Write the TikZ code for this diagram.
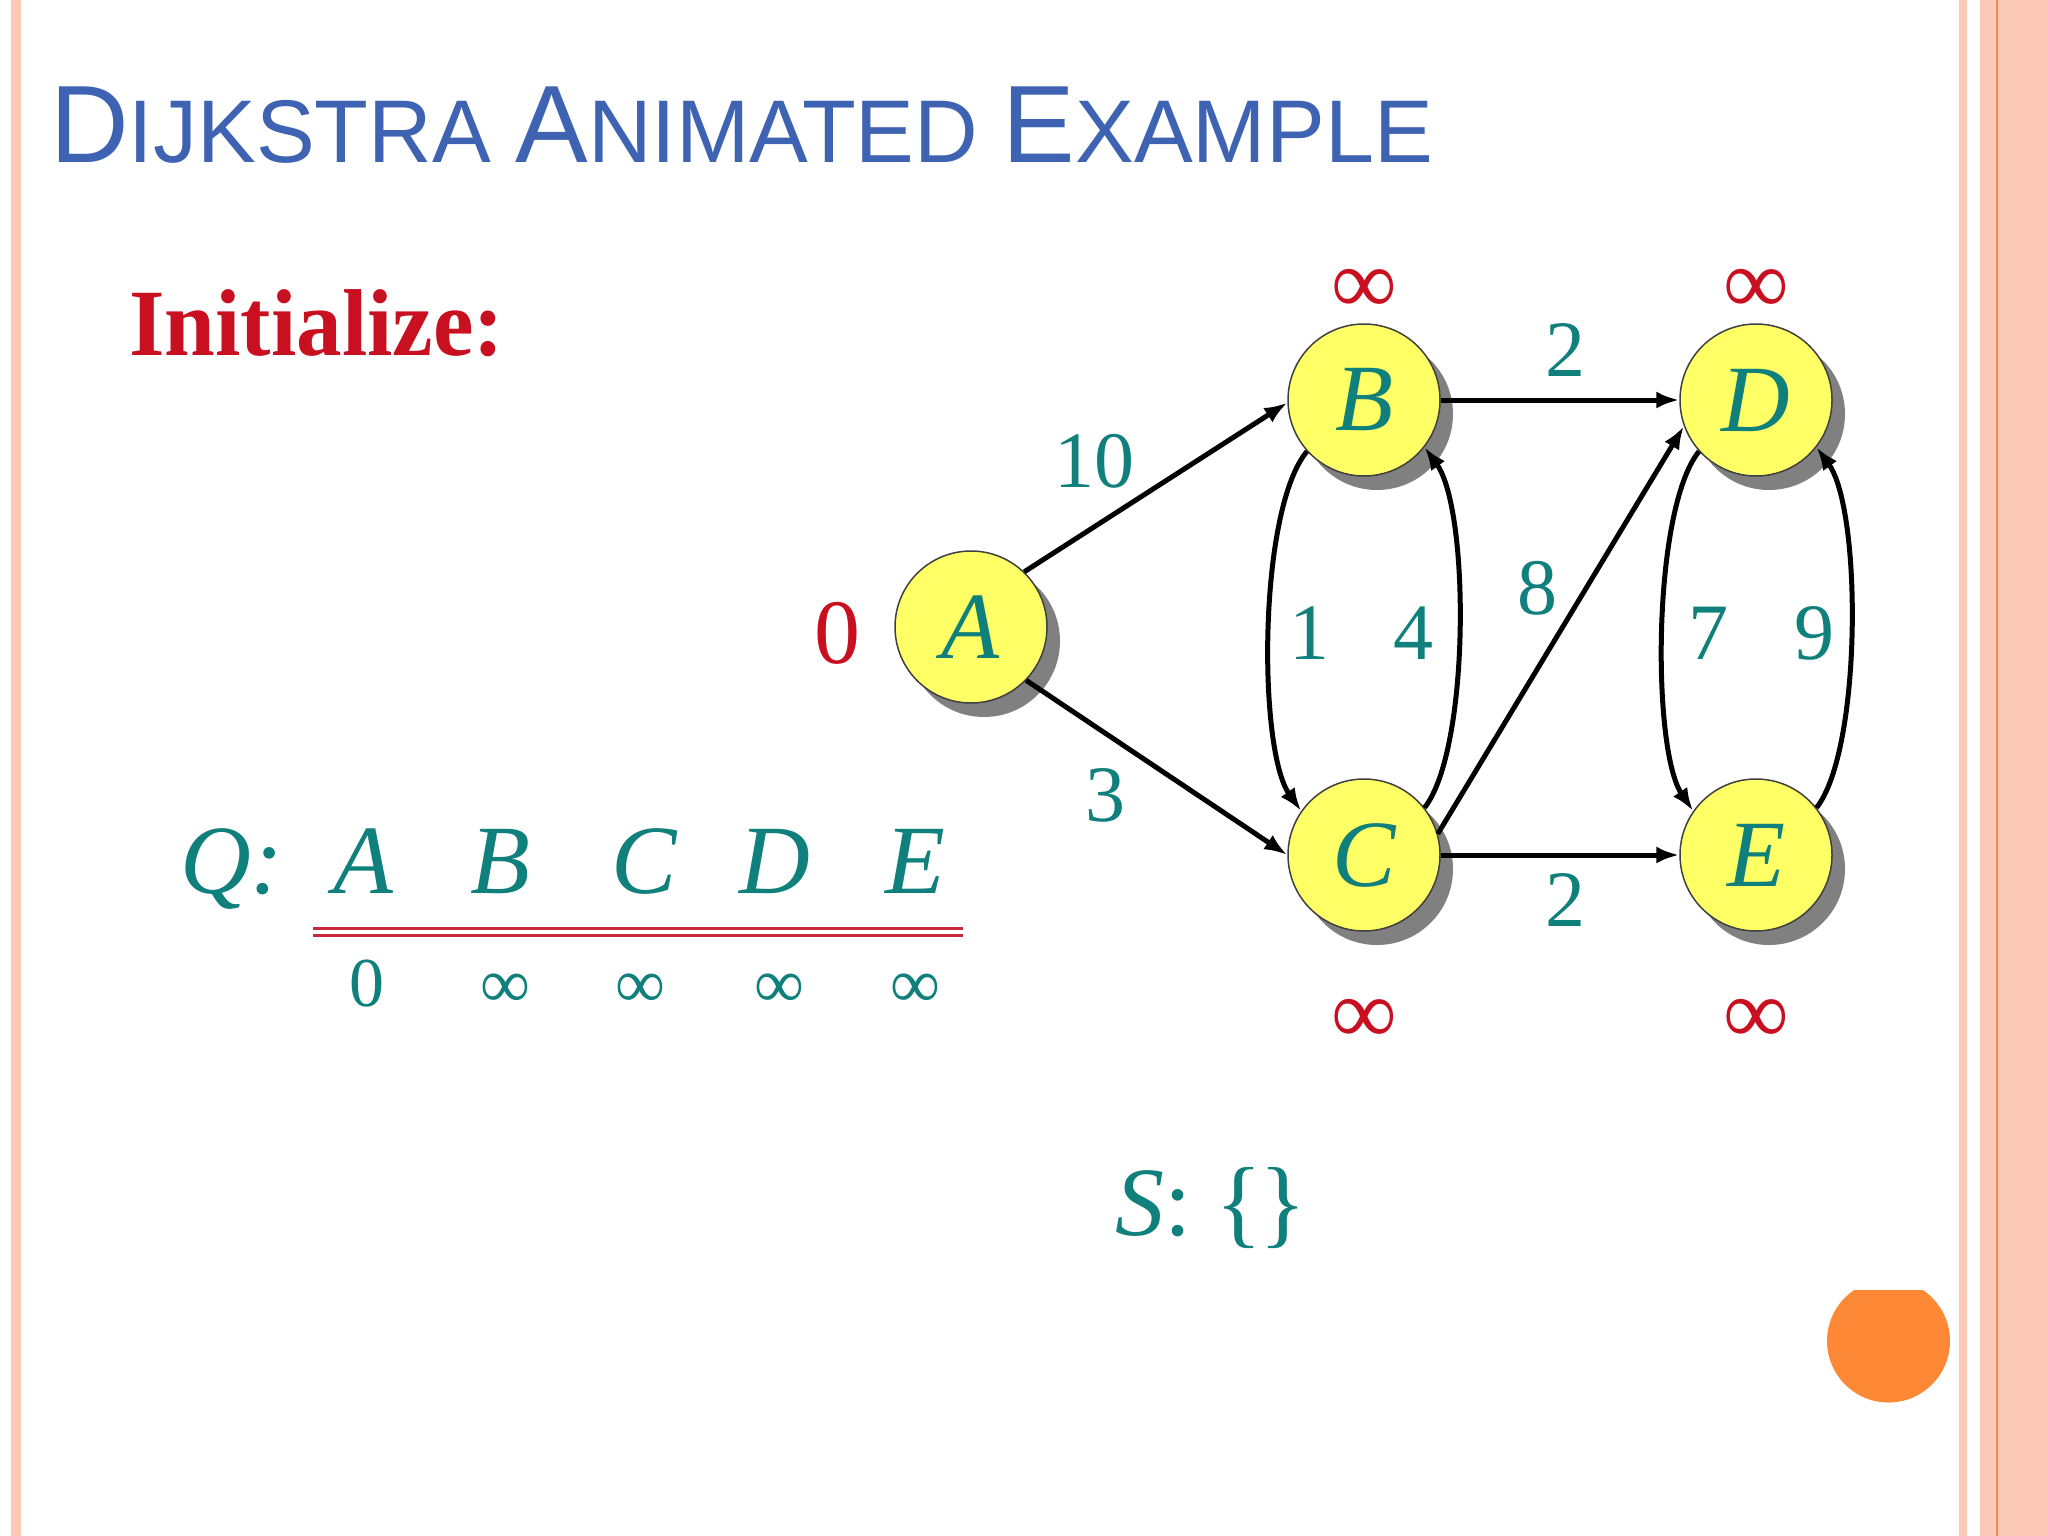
\documentclass[tikz,border=0pt]{standalone}
\usepackage{fontspec}
\setmainfont{Liberation Serif}
\newfontfamily\titlefont{Liberation Sans}
\usetikzlibrary{arrows.meta,shadows}
\definecolor{ttl}{RGB}{62,99,178}
\definecolor{dred}{RGB}{200,16,32}
\definecolor{tealx}{RGB}{16,128,124}
\definecolor{nodey}{RGB}{255,255,102}
\definecolor{salmon}{RGB}{251,201,182}
\definecolor{orng}{RGB}{253,136,53}
\definecolor{oline}{RGB}{240,140,90}
\definecolor{qred}{RGB}{200,40,60}
\newcommand\fsz[1]{\fontsize{#1}{#1}\selectfont}
\begin{document}
\begin{tikzpicture}[x=1pt,y=-1pt,
  vtx/.style={circle,draw=black!75,line width=1.5pt,fill=nodey,minimum size=152pt,inner sep=0pt,
    font=\fsz{95}\itshape,text=tealx,
    drop shadow={shadow xshift=13pt,shadow yshift=-14pt,fill=black!50,opacity=1}},
  edgearrow/.style={line width=5pt,-{Latex[length=23pt,width=17pt]}},
  wlab/.style={font=\fsz{80},text=tealx,inner sep=0pt},
  distlab/.style={font=\fsz{92},text=dred,inner sep=0pt},
  qlab/.style={font=\fsz{98}\itshape,text=tealx,inner sep=0pt,anchor=base},
  qval/.style={font=\fsz{70},text=tealx,inner sep=0pt}
]
\useasboundingbox (0,0) rectangle (2048,1536);
\fill[white] (0,0) rectangle (2048,1536);
% borders
\fill[salmon] (11,0) rectangle (21,1536);
\fill[salmon] (1959,0) rectangle (1967,1536);
\fill[salmon] (1980,0) rectangle (2048,1536);
\fill[oline] (1996,0) rectangle (1998,1536);
% orange dot
\begin{scope}
  \clip (1800,1290) rectangle (1975,1420);
  \fill[orng] (1888.5,1341) circle (61.5);
\end{scope}
% title
\node[anchor=base west,inner sep=0pt,text=ttl,font=\titlefont] (title) at (50,162)
  {\scalebox{0.99}[1]{{\fsz{110}D}{\fsz{89}IJKSTRA }{\fsz{110}A}{\fsz{89}NIMATED }{\fsz{110}E}{\fsz{89}XAMPLE}}};
\node[anchor=base west,inner sep=0pt,text=dred,font=\fsz{95}\bfseries] (init) at (129,355)
  {\scalebox{0.96}[1]{Initialize:}};
% vertices
\node[vtx] (A) at (971,627) {A};
\node[vtx] (B) at (1364,400) {B};
\node[vtx] (C) at (1364,855) {C};
\node[vtx] (D) at (1756,400) {D};
\node[vtx] (E) at (1756,855) {E};
% edges
\draw[edgearrow] (A.46) -- (B.182);
\draw[edgearrow] (A.316) -- (C.180);
\draw[edgearrow] (B.0) -- (D.180);
\draw[edgearrow] (C.0) -- (E.180);
\draw[edgearrow] (C.16) -- (D.200);
\draw[edgearrow] (B.222) .. controls (1258,510) and (1258,750) .. (C.145);
\draw[edgearrow] (C.38) .. controls (1470,750) and (1470,510) .. (B.322);
\draw[edgearrow] (D.222) .. controls (1652,510) and (1652,750) .. (E.145);
\draw[edgearrow] (E.38) .. controls (1862,750) and (1862,510) .. (D.322);
% weights
\node[wlab] (w10) at (1094,461) {10};
\node[wlab] (w3) at (1105,795) {3};
\node[wlab] (w2a) at (1565,350) {2};
\node[wlab] (w2b) at (1565,900) {2};
\node[wlab] (w1) at (1309,633) {1};
\node[wlab] (w4) at (1413,633) {4};
\node[wlab] (w8) at (1537,588) {8};
\node[wlab] (w7) at (1708,633) {7};
\node[wlab] (w9) at (1814,633) {9};
% distances
\node[distlab] (dA) at (837,633) {0};
\node[distlab] (dB) at (1364,291) {∞};
\node[distlab] (dD) at (1756,291) {∞};
\node[distlab] (dC) at (1364,1021) {∞};
\node[distlab] (dE) at (1756,1021) {∞};
% queue
\node[qlab,anchor=base west] (Q) at (180,893) {Q:};
\node[qlab] (qA) at (363,893) {A};
\node[qlab] (qB) at (500,893) {B};
\node[qlab] (qC) at (644,893) {C};
\node[qlab] (qD) at (775,893) {D};
\node[qlab] (qE) at (915,893) {E};
\draw[qred,line width=3pt] (313,928) -- (963,928);
\draw[qred,line width=3pt] (313,935) -- (963,935);
\node[qval] (vA) at (367,984) {0};
\node[qval] (vB) at (505,991) {∞};
\node[qval] (vC) at (640,991) {∞};
\node[qval] (vD) at (779,991) {∞};
\node[qval] (vE) at (915,991) {∞};
% S set
\node[anchor=base west,inner sep=0pt,text=tealx,font=\fsz{98}] (S) at (1115,1235) {\textit{S}: \{\kern-4pt\}};
\end{tikzpicture}
\end{document}
